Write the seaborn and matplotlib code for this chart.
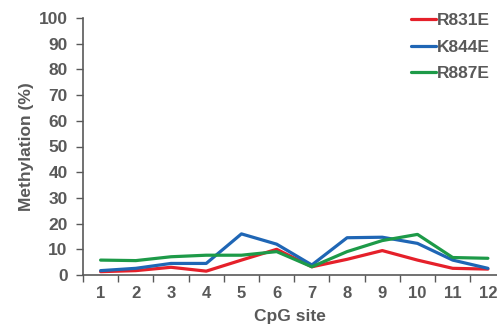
import numpy as np
import pandas as pd
import matplotlib
matplotlib.use("Agg")
import matplotlib.pyplot as plt
import seaborn as sns

sites = list(range(1, 13))
r831e = [1.3, 1.7, 3.0, 1.5, 5.8, 10.0, 3.2, 6.1, 9.5, 5.8, 2.6, 2.3]
k844e = [1.7, 2.6, 4.5, 4.5, 16.0, 12.0, 3.9, 14.5, 14.7, 12.3, 5.8, 2.6]
r887e = [5.8, 5.6, 7.1, 7.7, 7.7, 9.1, 3.2, 9.1, 13.4, 15.8, 6.8, 6.5]
series_names = ["R831E", "K844E", "R887E"]
colors = ["#e5202a", "#1f66b5", "#1d9a48"]

df = pd.concat([
    pd.DataFrame({"site": sites, "value": v, "mutant": n})
    for n, v in zip(series_names, [r831e, k844e, r887e])
])

sns.set_style("white")
plt.rcParams["font.family"] = ["Liberation Sans", "DejaVu Sans"]
gray = "#595959"

W, H = 497, 329
fig = plt.figure(figsize=(W / 100, H / 100), dpi=100)
# category axis: half a slot on each side, the right end runs past the canvas
ax_left, ax_right = 83, 505.5
ax_bottom, ax_top = 275, 18
ax = fig.add_axes([ax_left / W, 1 - ax_bottom / H,
                   (ax_right - ax_left) / W, (ax_bottom - ax_top) / H])

sns.lineplot(data=df, x="site", y="value", hue="mutant", hue_order=series_names,
             palette=colors, linewidth=2.3, ax=ax)

ax.set_xlim(0.5, 12.5)
ax.set_ylim(0, 100)
ax.set_yticks(range(0, 101, 10))
ax.set_xticks(sites)
ax.set_xticks(np.arange(0.5, 12.6, 1), minor=True)
ax.tick_params(axis="x", which="major", length=0, pad=8, labelsize=12, labelcolor=gray)
ax.tick_params(axis="x", which="minor", length=5, width=1, color=gray, direction="out", bottom=True)
ax.tick_params(axis="y", length=5, width=1, color=gray, direction="out", left=True,
               labelsize=12.5, labelcolor=gray, pad=6)
for lab in ax.get_xticklabels() + ax.get_yticklabels():
    lab.set_fontweight("bold")

for s in ["top", "right"]:
    ax.spines[s].set_visible(False)
for s in ["left", "bottom"]:
    ax.spines[s].set_color(gray)
    ax.spines[s].set_linewidth(1.2)

ax.set_xlabel("CpG site", fontsize=12.5, fontweight="bold", color=gray)
ax.xaxis.set_label_coords(290 / W, 1 - 316 / H, transform=fig.transFigure)
ax.xaxis.label.set_va("center")
ax.set_ylabel("Methylation (%)", fontsize=12.5, fontweight="bold", color=gray)
ax.yaxis.set_label_coords(27 / W, 1 - 147 / H, transform=fig.transFigure)
ax.yaxis.label.set_va("center")

leg = ax.legend(loc="upper right", bbox_to_anchor=(490 / W, 1 - 13 / H),
                bbox_transform=fig.transFigure, frameon=False, borderpad=0, borderaxespad=0,
                handlelength=1.45, handletextpad=0.05, labelspacing=0.65,
                prop={"weight": "bold", "size": 12.5})
for t in leg.get_texts():
    t.set_color(gray)

fig.savefig("out.png", dpi=100)
